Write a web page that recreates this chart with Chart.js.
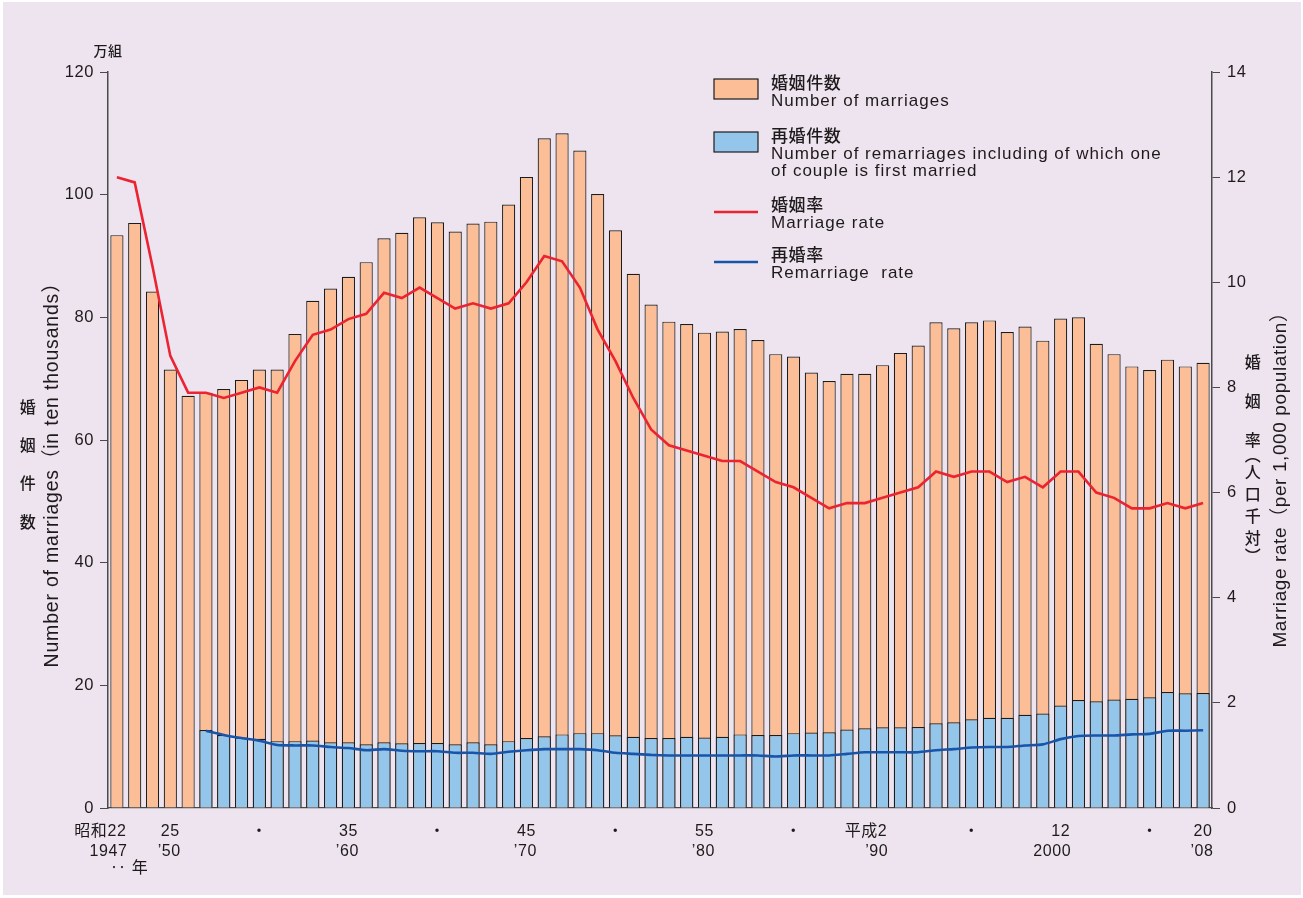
<!DOCTYPE html>
<html lang="ja">
<head>
<meta charset="utf-8">
<title>婚姻件数・婚姻率の年次推移</title>
<script src="https://cdn.jsdelivr.net/npm/chart.js@4.4.0/dist/chart.umd.min.js"></script>
<style>
  html, body { margin: 0; padding: 0; background: #ffffff; }
  canvas { display: block; }
</style>
</head>
<body>
<canvas id="chart" width="1303" height="898"></canvas>
<script>
// 年次（昭和22年〜平成20年）
const years = [
  1947, 1948, 1949, 1950, 1951, 1952, 1953, 1954, 1955, 1956,
  1957, 1958, 1959, 1960, 1961, 1962, 1963, 1964, 1965, 1966,
  1967, 1968, 1969, 1970, 1971, 1972, 1973, 1974, 1975, 1976,
  1977, 1978, 1979, 1980, 1981, 1982, 1983, 1984, 1985, 1986,
  1987, 1988, 1989, 1990, 1991, 1992, 1993, 1994, 1995, 1996,
  1997, 1998, 1999, 2000, 2001, 2002, 2003, 2004, 2005, 2006,
  2007, 2008
];

// 婚姻件数（万組）
const marriages = [
  93.4, 95.4, 84.2, 71.5, 67.2, 67.7, 68.3, 69.8, 71.5, 71.5,
  77.3, 82.7, 84.7, 86.6, 89.0, 92.9, 93.8, 96.3, 95.5, 94.0,
  95.3, 95.6, 98.4, 102.9, 109.2, 110.0, 107.2, 100.1, 94.2, 87.1,
  82.1, 79.3, 78.9, 77.5, 77.7, 78.1, 76.3, 74.0, 73.6, 71.0,
  69.6, 70.8, 70.8, 72.2, 74.2, 75.4, 79.2, 78.2, 79.2, 79.5,
  77.6, 78.5, 76.2, 79.8, 80.0, 75.7, 74.0, 72.0, 71.4, 73.1,
  72.0, 72.6
];

// 再婚件数（万組）　昭和27年から
const remarriages = [
  null, null, null, null, null, 12.7, 11.9, 11.5, 11.3, 10.9,
  10.9, 11.0, 10.7, 10.7, 10.4, 10.7, 10.55, 10.6, 10.6, 10.4,
  10.7, 10.4, 10.9, 11.4, 11.7, 12.0, 12.2, 12.2, 11.85, 11.6,
  11.4, 11.4, 11.6, 11.5, 11.6, 12.0, 11.9, 11.9, 12.2, 12.3,
  12.35, 12.8, 13.0, 13.15, 13.15, 13.2, 13.8, 13.97, 14.46, 14.7,
  14.7, 15.2, 15.4, 16.7, 17.6, 17.4, 17.7, 17.8, 18.05, 18.9,
  18.7, 18.75
];

// 婚姻率（人口千対）
const marriageRate = [
  12.0, 11.9, 10.3, 8.6, 7.9, 7.9, 7.8, 7.9, 8.0, 7.9,
  8.5, 9.0, 9.1, 9.3, 9.4, 9.8, 9.7, 9.9, 9.7, 9.5,
  9.6, 9.5, 9.6, 10.0, 10.5, 10.4, 9.9, 9.1, 8.5, 7.8,
  7.2, 6.9, 6.8, 6.7, 6.6, 6.6, 6.4, 6.2, 6.1, 5.9,
  5.7, 5.8, 5.8, 5.9, 6.0, 6.1, 6.4, 6.3, 6.4, 6.4,
  6.2, 6.3, 6.1, 6.4, 6.4, 6.0, 5.9, 5.7, 5.7, 5.8,
  5.7, 5.8
];

// 再婚率（人口千対）
const remarriageRate = [
  null, null, null, null, null, 1.47, 1.39, 1.33, 1.28, 1.20,
  1.19, 1.19, 1.16, 1.14, 1.10, 1.12, 1.09, 1.08, 1.08, 1.05,
  1.05, 1.03, 1.07, 1.10, 1.12, 1.12, 1.12, 1.10, 1.05, 1.03,
  1.01, 1.00, 1.00, 1.00, 1.00, 1.00, 1.00, 0.98, 1.00, 1.00,
  1.00, 1.03, 1.06, 1.06, 1.06, 1.06, 1.10, 1.12, 1.15, 1.16,
  1.16, 1.19, 1.21, 1.31, 1.37, 1.38, 1.38, 1.40, 1.41, 1.47,
  1.47, 1.48
];

// 横軸の目盛り（和暦・西暦）
const tickYears   = [1947, 1950, 1955, 1960, 1965, 1970, 1975, 1980, 1985, 1990, 1995, 2000, 2005, 2008];
const tickEra     = ['昭和22', '25', '・', '35', '・', '45', '・', '55', '・', '平成2', '・', '12', '・', '20'];
const tickWestern = ['1947', '’50', '', '’60', '', '’70', '', '’80', '', '’90', '', '2000', '', '’08'];

const colors = {
    background: '#ede4ef',
    marriage: '#fbbe96',
    remarriage: '#93c6ea',
    outline: '#1c1c1c',
    rate: '#ec2330',
    remarriageRate: '#1a54a8',
    axis: '#4a4a4a',
    text: '#1e1a1b'
};

const FONT = "'Liberation Sans', 'Noto Sans CJK JP', Arial, sans-serif";
const JP_FONT = "'Noto Sans CJK JP', 'Liberation Sans', sans-serif";

// 縦書きの見出し
function drawVertical(ctx, chars, x, ys, size) {
    ctx.font = '500 ' + size + 'px ' + JP_FONT;
    ctx.textAlign = 'center';
    ctx.textBaseline = 'middle';
    chars.forEach((c, i) => ctx.fillText(c, x, ys[i]));
}

const decorations = {
    id: 'decorations',
    beforeDraw(chart) {
        const ctx = chart.ctx;
        ctx.save();
        ctx.fillStyle = '#ffffff';
        ctx.fillRect(0, 0, chart.width, chart.height);
        ctx.fillStyle = colors.background;
        ctx.fillRect(3, 2, chart.width - 5, chart.height - 5);
        ctx.restore();
        ctx.letterSpacing = '0.6px';
    },
    afterDraw(chart) {
        const ctx = chart.ctx;
        const x = chart.scales.x;
        ctx.save();
        ctx.fillStyle = colors.text;

        // 単位
        ctx.font = '500 14px ' + JP_FONT;
        ctx.textAlign = 'center';
        ctx.textBaseline = 'middle';
        ctx.fillText('万組', 108, 51);

        // 左軸タイトル
        drawVertical(ctx, ['婚', '姻', '件', '数'], 28, [407, 445, 483, 522], 16);
        ctx.save();
        ctx.translate(53, 470);
        ctx.rotate(-Math.PI / 2);
        ctx.font = '19.5px ' + FONT;
        ctx.letterSpacing = '0.8px';
        ctx.textAlign = 'center';
        ctx.textBaseline = 'middle';
        ctx.fillText('Number of marriages（in ten thousands）', 0, 0);
        ctx.restore();

        // 右軸タイトル
        drawVertical(ctx, ['婚', '姻', '率'], 1253, [362, 401, 440], 16);
        drawVertical(ctx, ['︵', '人', '口', '千', '対', '︶'], 1253, [455, 472, 494, 516, 538, 556], 16);
        ctx.save();
        ctx.translate(1281, 475);
        ctx.rotate(-Math.PI / 2);
        ctx.font = '19px ' + FONT;
        ctx.textAlign = 'center';
        ctx.textBaseline = 'middle';
        ctx.fillText('Marriage rate（per 1,000 population）', 0, 0);
        ctx.restore();

        // 横軸ラベル
        ctx.font = '16px ' + FONT;
        ctx.textBaseline = 'middle';
        tickYears.forEach((yr, i) => {
            const cx = x.getPixelForValue(years.indexOf(yr));
            const m = tickEra[i].match(/^(\D*?)(\d+|・)$/);
            const num = m[2];
            const numW = ctx.measureText(num).width;
            const right = cx + numW / 2;
            ctx.textAlign = 'right';
            ctx.fillText(tickEra[i], right, 832);
            if (tickWestern[i]) ctx.fillText(tickWestern[i], right + 1, 852);
        });
        ctx.textAlign = 'left';
        ctx.fillText('‥ 年', 110, 869);

        // 凡例
        const lx = 714, lw = 44, tx = 771;
        const entries = [
            { kind: 'box', color: colors.marriage, y: 89, jp: '婚姻件数', en: ['Number of marriages'] },
            { kind: 'box', color: colors.remarriage, y: 142, jp: '再婚件数', en: ['Number of remarriages including of which one', 'of couple is first married'] },
            { kind: 'line', color: colors.rate, y: 212, jp: '婚姻率', en: ['Marriage rate'] },
            { kind: 'line', color: colors.remarriageRate, y: 262, jp: '再婚率', en: ['Remarriage  rate'] }
        ];
        entries.forEach(e => {
            if (e.kind === 'box') {
                ctx.fillStyle = e.color;
                ctx.fillRect(lx, e.y - 10, lw, 20);
                ctx.strokeStyle = colors.outline;
                ctx.lineWidth = 1.2;
                ctx.strokeRect(lx, e.y - 10, lw, 20);
            } else {
                ctx.strokeStyle = e.color;
                ctx.lineWidth = 2.4;
                ctx.beginPath();
                ctx.moveTo(lx, e.y);
                ctx.lineTo(lx + lw, e.y);
                ctx.stroke();
            }
            const top = e.kind === 'box' ? e.y - 6 : e.y - 7;
            ctx.fillStyle = colors.text;
            ctx.textAlign = 'left';
            ctx.textBaseline = 'middle';
            ctx.letterSpacing = '0.6px';
            ctx.font = '500 17px ' + JP_FONT;
            ctx.fillText(e.jp, tx, top);
            ctx.letterSpacing = '1px';
            ctx.font = '17px ' + FONT;
            e.en.forEach((line, k) => ctx.fillText(line, tx, top + 18 + k * 17.5));
        });
        ctx.restore();
    }
};

new Chart(document.getElementById('chart'), {
    type: 'bar',
    data: {
        labels: years,
        datasets: [
            {
                type: 'line',
                label: '婚姻率',
                data: marriageRate,
                yAxisID: 'y1',
                borderColor: colors.rate,
                borderWidth: 2.6,
                pointRadius: 0,
                tension: 0,
                order: 0
            },
            {
                type: 'line',
                label: '再婚率',
                data: remarriageRate,
                yAxisID: 'y1',
                borderColor: colors.remarriageRate,
                borderWidth: 2.6,
                pointRadius: 0,
                tension: 0.2,
                order: 1
            },
            {
                label: '再婚件数',
                data: remarriages,
                yAxisID: 'y',
                backgroundColor: colors.remarriage,
                borderColor: colors.outline,
                borderWidth: 1.2,
                grouped: false,
                barPercentage: 0.74,
                categoryPercentage: 1,
                order: 2
            },
            {
                label: '婚姻件数',
                data: marriages,
                yAxisID: 'y',
                backgroundColor: colors.marriage,
                borderColor: colors.outline,
                borderWidth: 1.2,
                grouped: false,
                barPercentage: 0.74,
                categoryPercentage: 1,
                order: 3
            }
        ]
    },
    options: {
        responsive: false,
        animation: false,
        layout: { padding: { top: 72, bottom: 90, left: 0, right: 0 } },
        plugins: {
            legend: { display: false },
            tooltip: { enabled: false }
        },
        scales: {
            x: {
                grid: { display: false },
                ticks: { display: false },
                border: { display: true, color: colors.axis, width: 1.2 },
                afterFit(scale) { scale.height = 0; }
            },
            y: {
                position: 'left',
                min: 0,
                max: 120,
                ticks: {
                    stepSize: 20,
                    padding: 6,
                    color: colors.text,
                    font: { family: FONT, size: 16.5 }
                },
                grid: { drawOnChartArea: false, tickLength: 8, color: colors.axis, tickColor: colors.axis },
                border: { color: colors.axis, width: 1.5 },
                afterFit(scale) { scale.width = 108; }
            },
            y1: {
                position: 'right',
                min: 0,
                max: 14,
                ticks: {
                    stepSize: 2,
                    padding: 7,
                    color: colors.text,
                    font: { family: FONT, size: 16.5 }
                },
                grid: { drawOnChartArea: false, tickLength: 8, color: colors.axis, tickColor: colors.axis },
                border: { color: colors.axis, width: 1.5 },
                afterFit(scale) { scale.width = 91; }
            }
        }
    },
    plugins: [decorations]
});
</script>
</body>
</html>
